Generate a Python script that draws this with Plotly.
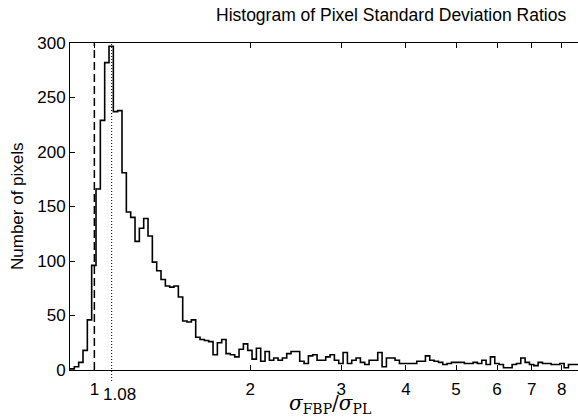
import numpy as np
import plotly.graph_objects as go

# Histogram counts (log-spaced bins)
counts = [1, 3, 7, 18, 46, 96, 166, 229, 282, 297,
          237, 238, 181, 145, 140, 118, 130, 139, 123, 99,
          91, 83, 77, 76, 77, 67, 45, 44, 46, 30,
          28, 27, 26, 14, 25, 28, 15, 14, 12, 19,
          24, 18, 10, 20, 8, 17, 9, 11, 9, 11,
          15, 17, 17, 8, 6, 13, 14, 9, 9, 12,
          14, 9, 6, 16, 6, 9, 11, 7, 5, 9,
          9, 16, 3, 11, 11, 9, 6, 6, 6, 6,
          8, 8, 13, 9, 8, 7, 5, 6, 7, 7,
          7, 6, 6, 7, 6, 9, 5, 12, 6, 5,
          2, 2, 5, 6, 11, 7, 5, 4, 7, 6,
          6, 5, 5, 6, 2, 5, 5, 5]
bin_first_edge = 0.8973
bin_log_width = 0.008375
x_tick_vals = [1, 2, 3, 4, 5, 6, 7, 8]
x_tick_text = ["1", "2", "3", "4", "5", "6", "7", "8"]
y_tick_vals = [0, 50, 100, 150, 200, 250, 300]
ref_line = 1.0
median_line = 1.08

n = len(counts)
edges = 10 ** (np.log10(bin_first_edge) + bin_log_width * np.arange(n + 1))
xs = list(edges)
ys = list(counts) + [counts[-1]]

W, H = 578, 417
L, R, T, B = 70, 0, 43, 47
PW, PH = W - L - R, H - T - B


def px(xp):
    return (xp - L) / PW


def py(yp):
    return (H - B - yp) / PH


font = "Liberation Sans, Arial, sans-serif"
fig = go.Figure()
fig.add_trace(go.Scatter(x=xs, y=ys, mode="lines", line=dict(color="black", width=1.6, shape="hv"),
                         showlegend=False, hoverinfo="skip"))

x_right = 8.60
fig.update_layout(
    width=W, height=H,
    margin=dict(l=L, r=R, t=T, b=B),
    paper_bgcolor="white", plot_bgcolor="white",
    font=dict(family=font, size=17, color="black"),
    xaxis=dict(type="log", range=[np.log10(bin_first_edge), np.log10(x_right)],
               tickvals=x_tick_vals, ticktext=x_tick_text, ticks="inside", ticklen=5,
               tickcolor="black", showline=True, linecolor="black", linewidth=1,
               mirror="ticks", showgrid=False, zeroline=False, automargin=False,
               ticklabelstandoff=4, tickfont=dict(family=font, size=17)),
    yaxis=dict(range=[0, 300], tickvals=y_tick_vals, ticks="inside", ticklen=5,
               tickcolor="black", showline=True, linecolor="black", linewidth=1,
               showgrid=False, zeroline=False, automargin=False,
               tickfont=dict(family=font, size=17)),
)

fig.add_shape(type="line", xref="x", yref="paper", x0=ref_line, x1=ref_line, y0=0, y1=1,
              line=dict(color="black", width=1.5, dash="8px,4px"))
fig.add_shape(type="line", xref="x", yref="paper", x0=median_line, x1=median_line, y0=py(381), y1=1,
              line=dict(color="black", width=1, dash="1px,2px"))

fig.add_annotation(x=px(101), xref="paper", y=py(395), yref="paper", text=f"{median_line:.2f}",
                   showarrow=False, xanchor="left", yanchor="middle",
                   font=dict(family=font, size=17))
fig.add_annotation(x=px(17), xref="paper", y=py(206), yref="paper", text="Number of pixels",
                   textangle=-90, showarrow=False, xanchor="center", yanchor="middle",
                   font=dict(family=font, size=17))
fig.add_annotation(x=px(391), xref="paper", y=py(15), yref="paper",
                   text="Histogram of Pixel Standard Deviation Ratios", showarrow=False,
                   xanchor="center", yanchor="middle", font=dict(family=font, size=17.5))
fig.add_annotation(x=px(330), xref="paper", y=py(404), yref="paper",
                   text="<i>σ</i><sub>FBP</sub>/<i>σ</i><sub>PL</sub>", showarrow=False,
                   xanchor="center", yanchor="middle",
                   font=dict(family="DejaVu Serif, Liberation Serif, serif", size=20))

fig.write_html("out.html", config={"displayModeBar": False},
               post_script="document.body.style.margin='0';")
